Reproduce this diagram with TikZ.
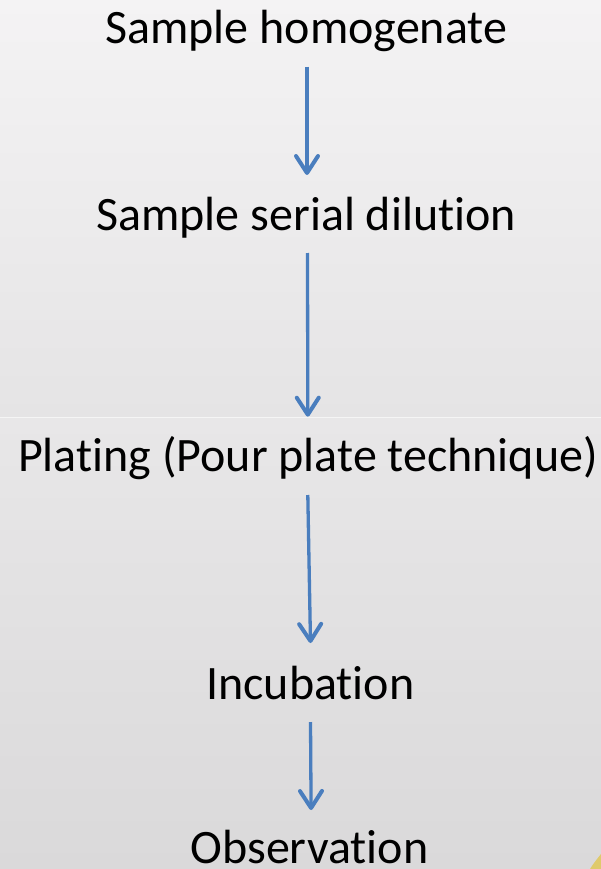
\documentclass[tikz,border=0pt]{standalone}
\usepackage{fontspec}
\setmainfont[Ligatures=NoCommon]{Carlito}
\usetikzlibrary{arrows.meta}
\definecolor{flowblue}{RGB}{74,126,190}
\definecolor{bgtop}{RGB}{244,243,244}
\definecolor{bgmid}{RGB}{229,228,229}
\definecolor{bgmid2}{RGB}{232,231,232}
\definecolor{bgbot}{RGB}{218,217,218}
\definecolor{cornergold}{RGB}{226,196,60}
\tikzset{
  stage/.style={inner sep=0pt, anchor=base, font=\fontsize{48}{58}\selectfont, text=black},
  flow/.style={draw=flowblue, line width=3.3pt,
    -{Straight Barb[length=17pt, width=22pt, line width=4pt, round]}},
}
\begin{document}
\begin{tikzpicture}[x=1pt, y=-1pt]
  % background panels
  \useasboundingbox (0,0) rectangle (601,869);
  \shade[top color=bgtop, bottom color=bgmid] (0,0) rectangle (601,417);
  \shade[top color=bgmid2, bottom color=bgbot] (0,417) rectangle (601,869);
  \draw[white, opacity=0.6, line width=1pt] (0,417) -- (601,417);
  % gold corner ornament
  \begin{scope}
    \clip (0,0) rectangle (601,869);
    \fill[cornergold, opacity=0.7] (601,854) .. controls (597,859) and (593,864) .. (590,869) -- (601,869) -- cycle;
  \end{scope}

  % stages
  \node[stage] (homog) at (306.3,43.3) {Sample homogenate};
  \node[stage] (dilut) at (306.2,230) {Sample serial dilution};
  \node[stage] (plate) at (308,471.7) {Plating (Pour plate technique)};
  \node[stage] (incub) at (310.4,699) {Incubation};
  \node[stage] (obser) at (309.4,863) {Observation};

  % connectors
  \draw[flow] ([xshift=0.7pt, yshift=-23.4pt]homog.base) -- ([xshift=0.8pt, yshift=55pt]dilut.base);
  \draw[flow] ([xshift=1.3pt, yshift=-23pt]dilut.base) -- ([xshift=-0.2pt, yshift=55pt]plate.base);
  \draw[flow] ([xshift=-0.2pt, yshift=-23.3pt]plate.base) -- ([xshift=0.1pt, yshift=56pt]incub.base);
  \draw[flow] ([xshift=0.1pt, yshift=-23pt]incub.base) -- ([xshift=1.7pt, yshift=53pt]obser.base);
\end{tikzpicture}
\end{document}
